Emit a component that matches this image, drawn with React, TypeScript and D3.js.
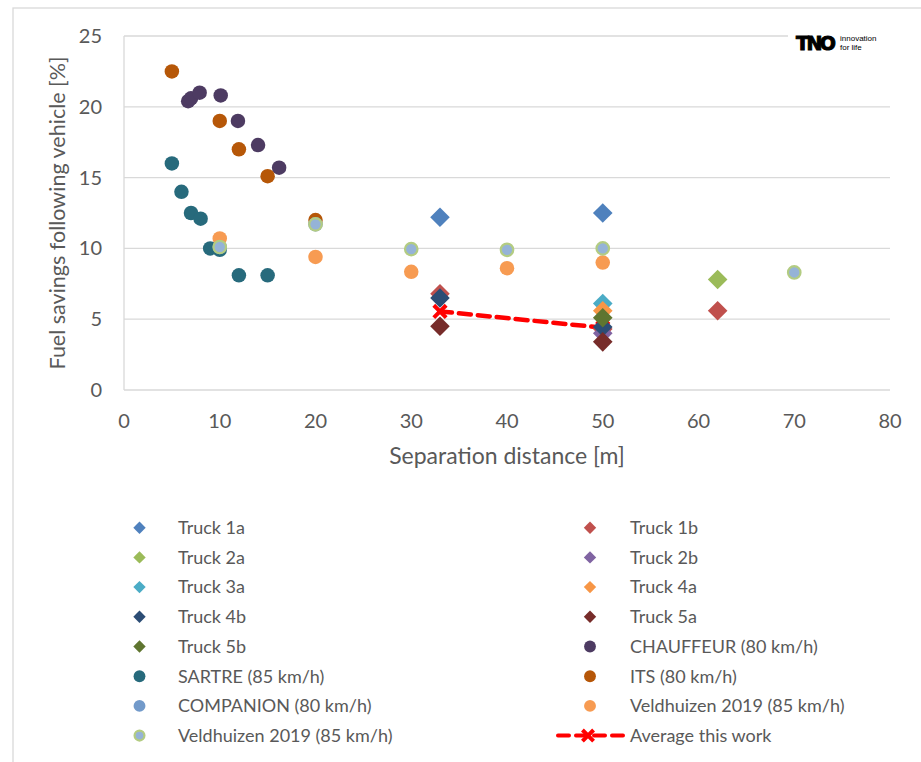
import * as d3 from "d3"
import React from "react"

// separation distance [m], fuel saving [%]
const truck1a = [[33, 12.2], [50, 12.5]]
const truck1b = [[33, 6.8], [50, 4.3], [62, 5.6]]
const truck2a = [[62, 7.8]]
const truck2b = [[50, 4.0]]
const truck3a = [[50, 6.1]]
const truck4a = [[50, 5.6]]
const truck4b = [[33, 6.5], [50, 4.45]]
const truck5a = [[33, 4.5], [50, 3.4]]
const truck5b = [[50, 5.1]]
const chauffeur = [[6.7, 20.4], [7.0, 20.6], [7.9, 21.0], [10.1, 20.8], [11.9, 19.0], [14, 17.3], [16.2, 15.7]]
const sartre = [[5, 16.0], [6, 14.0], [7, 12.5], [8, 12.1], [9, 10.0], [10, 9.9], [12, 8.1], [15, 8.1]]
const its = [[5, 22.5], [10, 19.0], [12, 17.0], [15, 15.1], [20, 12.0]]
const companion = [[10, 10.1], [20, 11.7]]
const veldOrange = [[10, 10.7], [20, 9.4], [30, 8.35], [40, 8.6], [50, 9.0]]
const veldRing = [[10, 10.1], [20, 11.7], [30, 9.95], [40, 9.9], [50, 10.0], [70, 8.3]]
const average = [[33, 5.55], [50, 4.4]]

const xTicks = [0, 10, 20, 30, 40, 50, 60, 70, 80]
const yTicks = [0, 5, 10, 15, 20, 25]

const series = [
  { name: "Truck 1a", data: truck1a, shape: "diamond", fill: "#4F81BD" },
  { name: "Truck 1b", data: truck1b, shape: "diamond", fill: "#C0504D" },
  { name: "Truck 2a", data: truck2a, shape: "diamond", fill: "#9BBB59" },
  { name: "Truck 2b", data: truck2b, shape: "diamond", fill: "#8064A2" },
  { name: "Truck 3a", data: truck3a, shape: "diamond", fill: "#4BACC6" },
  { name: "Truck 4a", data: truck4a, shape: "diamond", fill: "#F79646" },
  { name: "Truck 4b", data: truck4b, shape: "diamond", fill: "#2C4D75" },
  { name: "Truck 5a", data: truck5a, shape: "diamond", fill: "#772C2A" },
  { name: "Truck 5b", data: truck5b, shape: "diamond", fill: "#5F7530" },
  { name: "CHAUFFEUR (80 km/h)", data: chauffeur, shape: "circle", fill: "#4D3B62" },
  { name: "SARTRE (85 km/h)", data: sartre, shape: "circle", fill: "#276A7C" },
  { name: "ITS (80 km/h)", data: its, shape: "circle", fill: "#B65708" },
  { name: "COMPANION (80 km/h)", data: companion, shape: "circle", fill: "#729ACA" },
  { name: "Veldhuizen 2019 (85 km/h)", data: veldOrange, shape: "circle", fill: "#F79B52" },
  { name: "Veldhuizen 2019 (85 km/h)", data: veldRing, shape: "ring", fill: "#95B3D7", stroke: "#B3CC82" },
  { name: "Average this work", data: average, shape: "line", fill: "#FF0000" },
]

const font = "Lato, 'Open Sans', sans-serif"
const textColor = "#595959"
const grid = "#D9D9D9"

const Marker = ({ s, x, y, size }) => {
  if (s.shape === "diamond") {
    const h = size
    return <path d={`M${x},${y - h}L${x + h},${y}L${x},${y + h}L${x - h},${y}Z`} fill={s.fill} />
  }
  if (s.shape === "ring") {
    return <circle cx={x} cy={y} r={size * 0.78 - 1} fill={s.fill} stroke={s.stroke} strokeWidth={2.2} />
  }
  if (s.shape === "line") {
    const c = size * 0.62
    return (
      <path d={`M${x - c},${y - c}L${x + c},${y + c}M${x + c},${y - c}L${x - c},${y + c}`}
        stroke={s.fill} strokeWidth={4} fill="none" />
    )
  }
  return <circle cx={x} cy={y} r={size * 0.78} fill={s.fill} />
}

export default function App() {
  const width = 921
  const height = 762
  const x = d3.scaleLinear().domain([0, 80]).range([124, 890])
  const y = d3.scaleLinear().domain([0, 25]).range([390, 36])
  const line = d3.line().x(d => x(d[0])).y(d => y(d[1]))

  const avg = series[series.length - 1]
  const points = series.slice(0, -1)

  // legend: series alternate between left and right column
  const legendRows = series.map((s, i) => ({
    s,
    col: i % 2,
    row: Math.floor(i / 2),
  }))

  return (
    <svg width={width} height={height} style={{ position: "absolute", left: 0, top: 0 }}>
      <rect x={0} y={0} width={width} height={height} fill="#fff" />
      <rect x={13} y={8} width={width + 20} height={height + 20} fill="#fff" stroke={grid} strokeWidth={1.3} />

      {yTicks.map(t => (
        <g key={t}>
          <line x1={x(0)} x2={x(80)} y1={y(t)} y2={y(t)} stroke={grid} strokeWidth={1.3} />
          <text x={102} y={y(t)} dy="0.35em" textAnchor="end" fontFamily={font} fontSize={20} fill={textColor}>{t}</text>
        </g>
      ))}
      <line x1={x(0)} x2={x(0)} y1={y(0)} y2={y(25)} stroke={grid} strokeWidth={1.3} />
      {xTicks.map(t => (
        <text key={t} x={x(t)} y={421} dy="0.35em" textAnchor="middle" fontFamily={font} fontSize={20} fill={textColor}>{t}</text>
      ))}

      <text x={507} y={456} dy="0.35em" textAnchor="middle" fontFamily={font} fontSize={23} fill={textColor}>Separation distance [m]</text>
      <text transform={`translate(57,213) rotate(-90)`} dy="0.35em" textAnchor="middle" fontFamily={font} fontSize={21.5} fill={textColor}>Fuel savings following vehicle [%]</text>

      {/* TNO logo */}
      <rect x={788} y={28} width={102} height={28} fill="#fff" />
      <text x={796} y={50} fontFamily="'DejaVu Sans', sans-serif" fontWeight="bold" fontSize={19} letterSpacing={-2.5}
        fill="#000" stroke="#000" strokeWidth={1}>TNO</text>
      <text x={840} y={41} fontFamily="'Liberation Sans', sans-serif" fontSize={8} fill="#000">innovation</text>
      <text x={840} y={50} fontFamily="'Liberation Sans', sans-serif" fontSize={8} fill="#000">for life</text>

      <path d={line(avg.data)} fill="none" stroke={avg.fill} strokeWidth={4.5} strokeDasharray="12 7" strokeLinecap="round" />
      {avg.data.map((d, i) => <Marker key={i} s={avg} x={x(d[0])} y={y(d[1])} size={10} />)}

      {points.map((s, si) => (
        <g key={si}>
          {s.data.map((d, i) => (
            <Marker key={i} s={s} x={x(d[0])} y={y(d[1])} size={s.shape === "diamond" ? 9.8 : 9.3} />
          ))}
        </g>
      ))}

      {legendRows.map(({ s, col, row }, i) => {
        const mx = col === 0 ? 139.5 : 590
        const tx = col === 0 ? 178 : 630
        const ly = 527.7 + row * 29.7
        return (
          <g key={i}>
            {s.shape === "line" ? (
              <g>
                <line x1={558} x2={624} y1={ly} y2={ly} stroke={s.fill} strokeWidth={4} strokeDasharray="11 7" strokeLinecap="round" />
                <Marker s={s} x={588} y={ly} size={9} />
              </g>
            ) : (
              <Marker s={s} x={mx} y={ly} size={s.shape === "diamond" ? 6.2 : 7.6} />
            )}
            <text x={tx} y={ly} dy="0.35em" fontFamily={font} fontSize={18} fill={textColor}>{s.name}</text>
          </g>
        )
      })}
    </svg>
  )
}
